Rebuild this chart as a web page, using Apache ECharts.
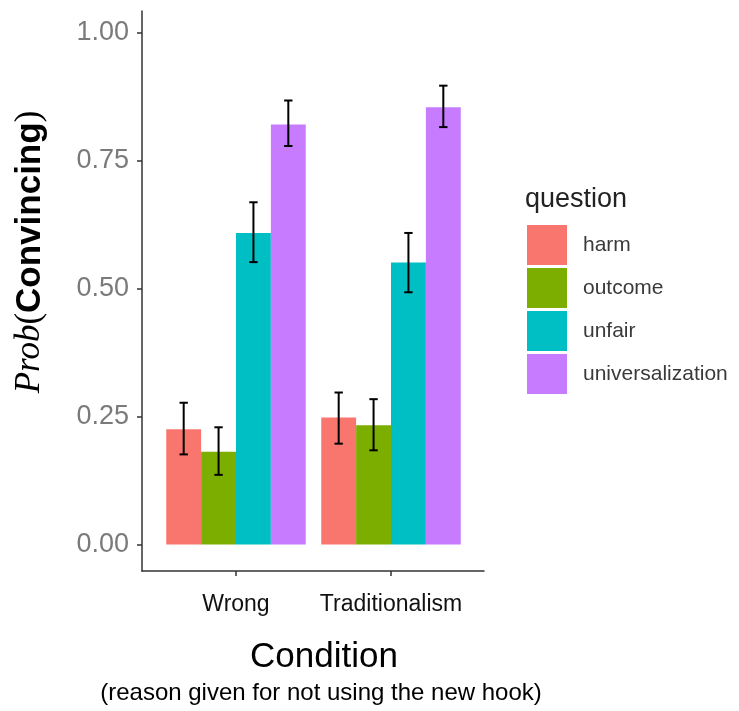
<!DOCTYPE html>
<html lang="en">
<head>
  <meta charset="UTF-8">
  <title>Prob(Convincing)</title>
  <script src="https://cdn.jsdelivr.net/npm/echarts@6/dist/echarts.min.js"></script>
  <style>
    html,body{margin:0;padding:0;background:#fff;}
  </style>
</head>
<body>
  <div id="main" style="width:739px;height:711px;"></div>
  <script>
    // data
    var conditions = ["Wrong", "Traditionalism"];
    var questions = ["harm", "outcome", "unfair", "universalization"];
    var colors = ["#F8766D", "#7CAE00", "#00BFC4", "#C77CFF"];
    var harm = [0.225, 0.248];
    var outcome = [0.181, 0.233];
    var unfair = [0.609, 0.551];
    var universalization = [0.821, 0.855];
    // error bar ends
    var harmLow = [0.176, 0.197], harmHigh = [0.277, 0.297];
    var outcomeLow = [0.136, 0.184], outcomeHigh = [0.229, 0.284];
    var unfairLow = [0.552, 0.493], unfairHigh = [0.669, 0.609];
    var univLow = [0.779, 0.816], univHigh = [0.868, 0.897];
    var yTicks = [0, 0.25, 0.5, 0.75, 1];

    var values = [harm, outcome, unfair, universalization];
    var lows = [harmLow, outcomeLow, unfairLow, univLow];
    var highs = [harmHigh, outcomeHigh, unfairHigh, univHigh];

    var yMin = -0.052, yMax = 1.043;
    var sans = "Liberation Sans, Arial, sans-serif";
    var serif = "Liberation Serif, Times New Roman, serif";

    // error bar rows: [category, low, high, question index]
    var errData = [];
    for (var s = 0; s < questions.length; s++) {
      for (var c = 0; c < conditions.length; c++) {
        errData.push([c, lows[s][c], highs[s][c], s]);
      }
    }

    var series = [];
    questions.forEach(function (q, i) {
      series.push({
        name: q,
        type: "bar",
        xAxisIndex: 1,
        yAxisIndex: 1,
        data: values[i],
        barGap: "0%",
        barCategoryGap: "10%",
        itemStyle: {color: colors[i]},
        emphasis: {disabled: true}
      });
    });
    series.push({
      type: "custom",
      xAxisIndex: 1,
      yAxisIndex: 1,
      data: errData,
      z: 10,
      renderItem: function (params, api) {
        var band = api.size([1, 0])[0];
        var barW = band * 0.9 / questions.length;
        var base = api.coord([api.value(0), api.value(1)]);
        var top = api.coord([api.value(0), api.value(2)]);
        var x = base[0] + (api.value(3) - 1.5) * barW;
        var cap = barW * 0.12;
        var st = {stroke: "#000", lineWidth: 2};
        return {
          type: "group",
          children: [
            {type: "line", shape: {x1: x, y1: base[1], x2: x, y2: top[1]}, style: st},
            {type: "line", shape: {x1: x - cap, y1: base[1], x2: x + cap, y2: base[1]}, style: st},
            {type: "line", shape: {x1: x - cap, y1: top[1], x2: x + cap, y2: top[1]}, style: st}
          ]
        };
      }
    });

    var chart = echarts.init(document.getElementById("main"));
    var option = {
      animation: false,
      backgroundColor: "#fff",
      grid: [
        {left: 142, right: 255, top: 11, bottom: 140},
        {left: 158.5, right: 270.5, top: 11, bottom: 140}
      ],
      xAxis: [
        {
          gridIndex: 0, type: "value", min: 0, max: 1,
          axisLine: {show: true, onZero: false, lineStyle: {color: "#333", width: 1.5}},
          axisTick: {show: false}, axisLabel: {show: false}, splitLine: {show: false}
        },
        {
          gridIndex: 1, type: "category", data: conditions,
          axisLine: {show: false, onZero: false},
          axisTick: {show: true, alignWithLabel: true, length: 5, lineStyle: {color: "#333", width: 1.5}},
          axisLabel: {interval: 0, margin: 22, fontSize: 23, color: "#111", fontFamily: sans}
        }
      ],
      yAxis: [
        {
          gridIndex: 0, type: "value", min: yMin, max: yMax,
          axisLine: {show: true, lineStyle: {color: "#333", width: 1.5}},
          axisTick: {show: true, length: 5, customValues: yTicks, lineStyle: {color: "#333", width: 1.5}},
          axisLabel: {
            customValues: yTicks, margin: 13, fontSize: 27, color: "#7a7a7a", fontFamily: sans,
            formatter: function (v) { return v.toFixed(2); }
          },
          splitLine: {show: false}
        },
        {
          gridIndex: 1, type: "value", min: yMin, max: yMax, show: false
        }
      ],
      legend: {
        data: questions,
        orient: "vertical",
        left: 527,
        top: 225,
        padding: 0,
        itemWidth: 40,
        itemHeight: 40,
        itemGap: 3,
        icon: "rect",
        selectedMode: false,
        textStyle: {fontSize: 21, color: "#3a3a3a", fontFamily: sans, padding: [0, 0, 0, 11]}
      },
      graphic: [
        {
          type: "text", left: 525, top: 186,
          style: {text: "question", fontSize: 27, fill: "#222", fontFamily: sans}
        },
        {
          type: "text", x: 30, y: 252, rotation: Math.PI / 2,
          style: {
            text: "{i|Prob}{p|(}{b|Convincing}{p|)}",
            align: "center", verticalAlign: "middle",
            rich: {
              i: {fontFamily: serif, fontStyle: "italic", fontSize: 35, fill: "#000"},
              p: {fontFamily: serif, fontSize: 35, fill: "#000"},
              b: {fontFamily: sans, fontWeight: "bold", fontSize: 35, fill: "#000"}
            }
          }
        },
        {
          type: "text", x: 324, y: 657,
          style: {text: "Condition", align: "center", verticalAlign: "middle", fontSize: 35, fill: "#000", fontFamily: sans}
        },
        {
          type: "text", x: 321, y: 693,
          style: {
            text: "(reason given for not using the new hook)", align: "center", verticalAlign: "middle",
            fontSize: 24, fill: "#000", fontFamily: sans
          }
        }
      ],
      series: series
    };
    chart.setOption(option);
  </script>
</body>
</html>
